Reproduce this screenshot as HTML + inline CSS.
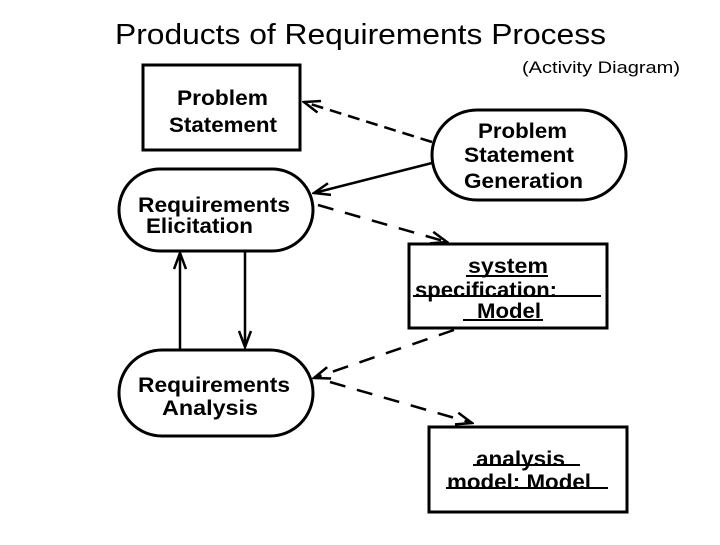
<!DOCTYPE html>
<html><head><meta charset="utf-8"><style>
body{margin:0;background:#fff;}
svg text{font-family:"Liberation Sans",Arial,sans-serif;fill:#000;}
</style></head><body>
<svg width="720" height="540" viewBox="0 0 720 540" xmlns="http://www.w3.org/2000/svg">
<defs>
<marker id="a" markerWidth="20" markerHeight="14" refX="18" refY="7" orient="auto" markerUnits="userSpaceOnUse">
<path d="M2,1 L18,7 L2,13" fill="none" stroke="#000" stroke-width="2.5"/>
</marker>
</defs>
<text x="115" y="44" font-size="29" textLength="491" lengthAdjust="spacingAndGlyphs">Products of Requirements Process</text>
<text x="522" y="73" font-size="17" textLength="158" lengthAdjust="spacingAndGlyphs">(Activity Diagram)</text>

<g fill="none" stroke="#000" stroke-width="3">
<rect x="143" y="65" width="157" height="85"/>
<rect x="432" y="110" width="194" height="90" rx="45"/>
<rect x="119" y="169" width="194" height="82" rx="41"/>
<rect x="409" y="244" width="198" height="84"/>
<rect x="119" y="350" width="194" height="86" rx="43"/>
<rect x="429" y="427" width="198" height="85"/>
</g>

<g stroke="#000" stroke-width="2.5" fill="none">
<line x1="432" y1="142" x2="304" y2="102" stroke-dasharray="12,7" marker-end="url(#a)"/>
<line x1="432" y1="163" x2="314" y2="193" marker-end="url(#a)"/>
<line x1="318" y1="205" x2="447" y2="242" stroke-dasharray="16,12" marker-end="url(#a)"/>
<line x1="454" y1="330" x2="314" y2="378" stroke-dasharray="16,12" marker-end="url(#a)"/>
<line x1="330" y1="382" x2="472" y2="423" stroke-dasharray="16,12" marker-end="url(#a)"/>
<line x1="180" y1="350" x2="180" y2="253" marker-end="url(#a)"/>
<line x1="245" y1="251" x2="245" y2="347" marker-end="url(#a)"/>
</g>

<g font-size="21" font-weight="bold" lengthAdjust="spacingAndGlyphs">
<text x="177" y="105" textLength="91" lengthAdjust="spacingAndGlyphs">Problem</text>
<text x="169" y="132" textLength="108" lengthAdjust="spacingAndGlyphs">Statement</text>
<text x="478" y="138" textLength="89" lengthAdjust="spacingAndGlyphs">Problem</text>
<text x="464" y="162" textLength="110" lengthAdjust="spacingAndGlyphs">Statement</text>
<text x="464" y="188" textLength="119" lengthAdjust="spacingAndGlyphs">Generation</text>
<text x="138" y="212" textLength="152" lengthAdjust="spacingAndGlyphs">Requirements</text>
<text x="146" y="233" textLength="107" lengthAdjust="spacingAndGlyphs">Elicitation</text>
<text x="138" y="392" textLength="152" lengthAdjust="spacingAndGlyphs">Requirements</text>
<text x="162" y="415" textLength="96" lengthAdjust="spacingAndGlyphs">Analysis</text>
<text x="468" y="273" textLength="80" lengthAdjust="spacingAndGlyphs">system</text>
<text x="415" y="297" textLength="142" lengthAdjust="spacingAndGlyphs">specification:</text>
<text x="477" y="318" textLength="64" lengthAdjust="spacingAndGlyphs">Model</text>
<text x="476" y="466" textLength="89" lengthAdjust="spacingAndGlyphs">analysis</text>
<text x="447" y="489" textLength="144" lengthAdjust="spacingAndGlyphs">model: Model</text>
</g>
<g stroke="#000" stroke-width="2">
<line x1="466" y1="276" x2="548" y2="276"/>
<line x1="413" y1="296" x2="601" y2="296"/>
<line x1="463" y1="320" x2="543" y2="320"/>
<line x1="473" y1="465" x2="580" y2="465"/>
<line x1="446" y1="488" x2="608" y2="488"/>
</g>
</svg>
</body></html>
